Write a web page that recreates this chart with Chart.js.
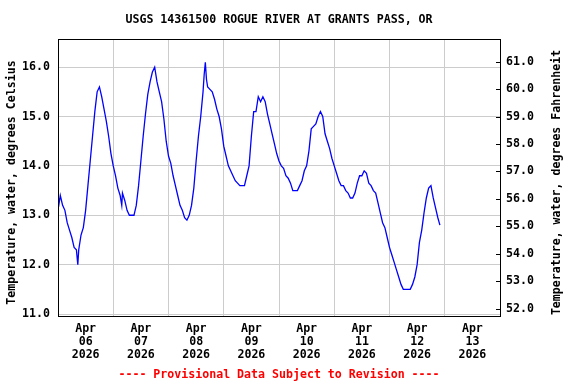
<!DOCTYPE html>
<html><head><meta charset="utf-8">
<script src="https://cdn.jsdelivr.net/npm/chart.js@4/dist/chart.umd.min.js"></script>
<style>html,body{margin:0;padding:0;background:#fff}#wrap{width:576px;height:384px}</style>
</head><body><div id="wrap"><canvas id="c" width="576" height="384"></canvas></div>
<script>
const titleText = 'USGS 14361500 ROGUE RIVER AT GRANTS PASS, OR';
const leftAxisTitle = 'Temperature, water, degrees Celsius';
const rightAxisTitle = 'Temperature, water, degrees Fahrenheit';
const footerText = '---- Provisional Data Subject to Revision ----';
const monthLabel = 'Apr';
const yearLabel = '2026';
const dayLabels = ['06','07','08','09','10','11','12','13'];
const celsiusTicks = [11,12,13,14,15,16];
const fahrenheitTicks = [52,53,54,55,56,57,58,59,60,61];
const yMinC = 10.96, yMaxC = 16.57;
// hours since Apr 06 2026 00:00
const hours = [0,0.5,1,2,3,4,5,6,7,8,8.6,9,10,11,12,13,14,15,16,17,18,19,20,21,22,23,24,25,26,27,27.7,28,29,30,31,32,33,34,35,36,37,38,39,40,41,42,43,44,45,46,47,48,49,50,51,52,53,54,55,56,57,58,59,60,61,62,63,63.5,64,64.5,65,66,67,68,69,70,71,72,73,74,75,76,77,78,79,80,81,82,83,84,85,86,87,88,89,90,91,92,93,94,95,96,97,98,99,100,101,102,103,104,105,106,107,108,109,110,111,112,113,114,115,116,117,118,119,120,121,122,123,124,125,126,127,128,129,130,131,132,133,134,135,136,137,138,139,140,141,142,143,144,145,146,147,148,149,150,151,152,153,154,155,156,157,158,159,160,161,162,163,164,165,165.9];
const tempC = [13.4,13.25,13.4,13.2,13.1,12.85,12.7,12.55,12.35,12.3,12.0,12.3,12.6,12.75,13.1,13.6,14.1,14.6,15.1,15.5,15.6,15.4,15.15,14.9,14.6,14.25,14.0,13.8,13.55,13.4,13.2,13.45,13.3,13.1,13.0,13.0,13.0,13.2,13.6,14.1,14.6,15.05,15.45,15.7,15.9,16.0,15.7,15.5,15.3,14.95,14.5,14.2,14.05,13.8,13.6,13.4,13.2,13.1,12.95,12.9,13.0,13.2,13.55,14.1,14.6,15.0,15.5,15.85,16.1,15.75,15.6,15.55,15.5,15.35,15.15,15.0,14.75,14.4,14.2,14.0,13.9,13.8,13.7,13.65,13.6,13.6,13.6,13.8,14.0,14.6,15.1,15.1,15.4,15.3,15.4,15.3,15.05,14.85,14.65,14.45,14.25,14.1,14.0,13.95,13.8,13.75,13.65,13.5,13.5,13.5,13.6,13.7,13.9,14.0,14.3,14.75,14.8,14.85,15.0,15.1,15.0,14.65,14.5,14.35,14.15,14.0,13.85,13.7,13.6,13.6,13.5,13.45,13.35,13.35,13.45,13.65,13.8,13.8,13.9,13.85,13.65,13.6,13.5,13.45,13.25,13.05,12.85,12.75,12.55,12.35,12.2,12.05,11.9,11.75,11.6,11.5,11.5,11.5,11.5,11.6,11.75,12.0,12.45,12.7,13.05,13.35,13.55,13.6,13.35,13.15,12.95,12.8];

const FONT = '"DejaVu Sans Mono", "Liberation Mono", monospace';
const FS = 11.6;
const c2f = c => c * 1.8 + 32;

const xTickValues = [];
for (let i = 0; i <= dayLabels.length; i++) {
  xTickValues.push(i * 24);
  if (i < dayLabels.length) xTickValues.push(i * 24 + 12);
}

const decor = {
  id: 'decor',
  afterDraw(chart) {
    const ctx = chart.ctx;
    const {left, right, top, bottom} = chart.chartArea;
    ctx.save();
    // right axis inner ticks
    const y2 = chart.scales.y2;
    ctx.strokeStyle = '#000';
    ctx.lineWidth = 1;
    y2.ticks.forEach(t => {
      const y = Math.round(y2.getPixelForValue(t.value)) + 0.5;
      ctx.beginPath(); ctx.moveTo(right - 4, y); ctx.lineTo(right, y); ctx.stroke();
    });
    // box
    ctx.strokeRect(left + 0.5, top + 0.5, right - left, bottom - top);
    // texts
    ctx.fillStyle = '#000';
    ctx.font = 'bold ' + FS + 'px ' + FONT;
    ctx.textAlign = 'center';
    ctx.textBaseline = 'middle';
    const cx = (left + right) / 2;
    ctx.fillText(titleText, cx, 20);
    const my = (top + bottom) / 2 + 5;
    ctx.save(); ctx.translate(12, my); ctx.rotate(-Math.PI / 2); ctx.fillText(leftAxisTitle, 0, 0); ctx.restore();
    ctx.save(); ctx.translate(557, my); ctx.rotate(-Math.PI / 2); ctx.fillText(rightAxisTitle, 0, 0); ctx.restore();
    ctx.fillStyle = '#ff0000';
    ctx.fillText(footerText, cx, 375);
    ctx.restore();
  }
};

new Chart(document.getElementById('c'), {
  type: 'line',
  data: {
    datasets: [{
      data: hours.map((h, i) => ({x: h, y: tempC[i]})),
      borderColor: '#0000ff',
      borderWidth: 1.3,
      pointRadius: 0,
      tension: 0,
      fill: false,
      yAxisID: 'y'
    }]
  },
  options: {
    responsive: false,
    animation: false,
    layout: {padding: {top: 39, left: 0, right: 0, bottom: 0}},
    plugins: {legend: {display: false}, tooltip: {enabled: false}, title: {display: false}},
    scales: {
      x: {
        type: 'linear', position: 'bottom', min: 0, max: dayLabels.length * 24,
        afterBuildTicks: s => { s.ticks = xTickValues.map(v => ({value: v})); },
        afterFit: s => { s.height = 68; },
        border: {display: false},
        grid: {
          drawTicks: false, lineWidth: 1,
          color: ctx => (ctx.tick && ctx.tick.value % 24 === 0) ? '#cccccc' : 'rgba(0,0,0,0)'
        },
        ticks: {
          autoSkip: false, maxRotation: 0, minRotation: 0, padding: 6, color: '#000',
          font: {family: FONT, size: FS, weight: 'bold', lineHeight: 1.13},
          callback: v => (v % 24 === 12) ? [monthLabel, dayLabels[(v - 12) / 24], yearLabel] : ''
        }
      },
      y: {
        type: 'linear', position: 'left', min: yMinC, max: yMaxC,
        afterBuildTicks: s => { s.ticks = celsiusTicks.map(v => ({value: v})); },
        afterFit: s => { s.width = 58; },
        border: {display: false},
        grid: {color: '#cccccc', drawTicks: false, lineWidth: 1},
        ticks: {padding: 8, color: '#000', font: {family: FONT, size: FS, weight: 'bold'}, callback: v => Number(v).toFixed(1)}
      },
      y2: {
        type: 'linear', position: 'right', min: c2f(yMinC), max: c2f(yMaxC),
        afterBuildTicks: s => { s.ticks = fahrenheitTicks.map(v => ({value: v})); },
        afterFit: s => { s.width = 76; },
        border: {display: false},
        grid: {drawOnChartArea: false, drawTicks: false},
        ticks: {padding: 6, color: '#000', font: {family: FONT, size: FS, weight: 'bold'}, callback: v => Number(v).toFixed(1)}
      }
    }
  },
  plugins: [decor]
});
</script></body></html>
